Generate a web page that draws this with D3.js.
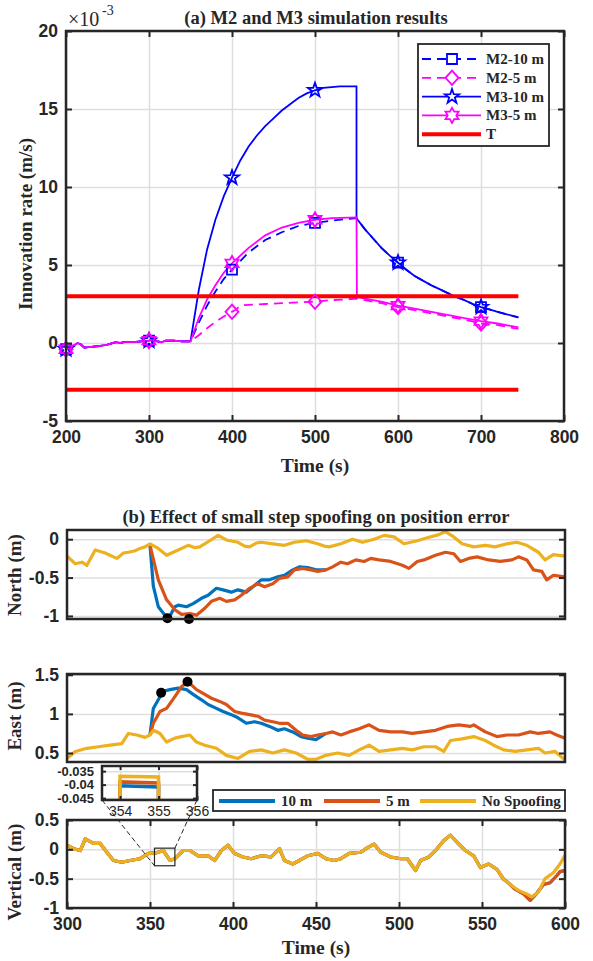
<!DOCTYPE html>
<head>
<meta charset="utf-8">
<script src="https://d3js.org/d3.v7.min.js"></script>
<style>
body { margin: 0; background: white; }
svg { font-family: 'Liberation Serif', 'Times New Roman', serif; }
text { font-weight: bold; fill: #262626; }
.grid line { stroke: #dedede; stroke-width: 1.5; }
.grid .domain { display: none; }
.ax .domain { display: none; }
.ax line { stroke: #262626; stroke-width: 2; }
.ax text { font-size: 17.5px; }
.frame { fill: none; stroke: #262626; stroke-width: 2.5; }
</style>
</head>
<body>
<svg id="fig" width="593" height="961"></svg>
<script>

// ---------- panel (a) data, values in 1e-3 m/s ----------
var pre350 = [[200,-0.40],[205,-0.30],[210,-0.15],[214,0.0],[218,-0.10],[222,-0.30],[230,-0.25],[240,-0.20],
  [250,-0.10],[260,0.05],[265,0.0],[270,0.05],[280,0.05],[290,0.10],[300,0.15],[305,0.25],[310,0.10],
  [315,0.05],[320,0.15],[330,0.15],[340,0.10],[350,0.10]];

var decay10 = [[550,8.0],[560,7.3],[570,6.7],[580,6.1],[590,5.6],[600,5.15],[610,4.7],[620,4.3],[630,4.0],
  [640,3.7],[650,3.45],[660,3.2],[670,2.95],[680,2.75],[690,2.5],[700,2.3],[710,2.15],[720,2.0],[730,1.85],[745,1.65]];

var m2_10_rise = [[360,1.3],[370,2.4],[380,3.3],[390,4.1],[400,4.7],[420,5.8],[440,6.6],[460,7.1],
  [480,7.5],[500,7.7],[520,7.85],[540,7.95]];

var m3_10_rise = [[360,3.4],[370,6.0],[380,7.9],[390,9.4],[400,10.6],[410,11.7],[420,12.6],[430,13.3],
  [440,13.9],[450,14.4],[460,14.9],[470,15.3],[480,15.7],[490,16.0],[500,16.2],[510,16.35],[520,16.4],
  [530,16.45],[540,16.45],[550,16.45]];

var m2_5_rest = [[360,0.5],[370,0.95],[380,1.35],[390,1.7],[400,2.0],[405,2.15],[410,2.4],[420,2.45],
  [440,2.5],[460,2.55],[480,2.6],[500,2.65],[520,2.75],[540,2.8],[550,2.85],[560,2.75],[580,2.55],
  [600,2.3],[620,2.1],[650,1.8],[680,1.5],[700,1.25],[720,1.15],[745,0.9]];

var m3_5_rest = [[360,1.6],[370,2.8],[380,3.7],[390,4.5],[400,5.1],[420,6.1],[440,6.9],[460,7.4],
  [480,7.7],[500,7.9],[520,8.0],[550,8.05],[550.5,2.95],[560,2.85],[580,2.65],[600,2.4],[620,2.2],
  [650,1.9],[680,1.6],[700,1.4],[720,1.25],[745,1.0]];

var threshold = 3;
var thrSpan = [200, 745];

var seriesA = [
  {name: "M2-10 m", color: "#0000ff", dash: "9,6", marker: "square",   data: pre350.concat(m2_10_rise, decay10)},
  {name: "M2-5 m",  color: "#ff00ff", dash: "9,6", marker: "diamond",  data: pre350.concat(m2_5_rest)},
  {name: "M3-10 m", color: "#0000ff", dash: null,  marker: "star",     data: pre350.concat(m3_10_rise, decay10)},
  {name: "M3-5 m",  color: "#ff00ff", dash: null,  marker: "hexagram", data: pre350.concat(m3_5_rest)}
];
var markerTimes = [200, 300, 400, 500, 600, 700];

// ---------- panel (b) data, position error in m ----------
var north_0 = [[300,-0.22],[305,-0.32],[309,-0.30],[312,-0.34],[317,-0.14],[323,-0.18],[327,-0.22],[330,-0.25],
  [334,-0.18],[337,-0.17],[341,-0.15],[344,-0.12],[347,-0.10],[350,-0.06],[355,-0.12],[360,-0.21],[364,-0.17],
  [367,-0.14],[373,-0.08],[377,-0.11],[380,-0.10],[386,-0.02],[391,0.05],[396,-0.01],[403,-0.04],[407,-0.09],
  [410,-0.10],[414,-0.05],[417,-0.04],[424,-0.06],[431,-0.08],[437,-0.04],[444,-0.02],[451,-0.06],[455,-0.09],
  [458,-0.10],[465,-0.06],[472,0.00],[478,-0.04],[485,0.00],[491,0.05],[497,0.03],[503,-0.06],[507,-0.04],
  [511,-0.02],[517,0.02],[524,0.06],[528,0.10],[533,0.03],[538,-0.06],[545,-0.10],[552,-0.08],[558,-0.10],
  [565,-0.06],[571,-0.04],[577,-0.08],[584,-0.17],[588,-0.27],[593,-0.20],[600,-0.22]];
var north_5 = [[350,-0.08],[355,-0.53],[360,-0.79],[365,-0.92],[369,-0.98],[374,-0.97],[378,-0.99],[383,-0.90],
  [387,-0.81],[392,-0.77],[396,-0.81],[401,-0.79],[405,-0.73],[410,-0.64],[415,-0.58],[419,-0.62],[424,-0.58],
  [428,-0.51],[433,-0.49],[437,-0.40],[442,-0.38],[447,-0.40],[451,-0.42],[456,-0.40],[460,-0.36],[465,-0.30],
  [469,-0.32],[474,-0.27],[479,-0.29],[483,-0.25],[488,-0.27],[495,-0.29],[502,-0.34],[506,-0.38],[511,-0.29],
  [515,-0.27],[522,-0.21],[528,-0.17],[533,-0.19],[537,-0.29],[542,-0.25],[547,-0.23],[554,-0.27],[561,-0.29],
  [568,-0.27],[572,-0.23],[577,-0.27],[581,-0.40],[586,-0.42],[589,-0.53],[593,-0.47],[600,-0.49]];
var north_10 = [[350,-0.08],[352,-0.61],[355,-0.88],[359,-0.99],[362,-1.0],[365,-0.88],[367,-0.86],[372,-0.88],
  [376,-0.84],[381,-0.77],[385,-0.73],[390,-0.64],[394,-0.66],[399,-0.69],[403,-0.66],[408,-0.69],[412,-0.62],
  [417,-0.53],[422,-0.53],[427,-0.49],[431,-0.47],[436,-0.40],[440,-0.36],[445,-0.37],[450,-0.40],[456,-0.40]];
var north_dots = [[360.5,-1.03],[373.5,-1.04]];

var east_0 = [[300,0.43],[305,0.52],[312,0.56],[319,0.58],[326,0.60],[333,0.62],[337,0.75],[342,0.73],[347,0.70],
  [350,0.73],[352,0.79],[356,0.75],[360,0.64],[365,0.69],[369,0.71],[374,0.73],[378,0.64],[383,0.60],[390,0.56],
  [396,0.47],[403,0.43],[410,0.52],[417,0.54],[424,0.50],[431,0.54],[438,0.50],[445,0.42],[450,0.42],[456,0.47],
  [463,0.50],[470,0.47],[476,0.54],[482,0.60],[488,0.52],[495,0.54],[502,0.56],[508,0.54],[515,0.58],[522,0.58],
  [527,0.52],[531,0.66],[538,0.68],[545,0.71],[552,0.66],[557,0.60],[563,0.54],[570,0.52],[577,0.54],[584,0.56],
  [588,0.50],[594,0.52],[600,0.41]];
var east_5 = [[350,0.73],[352,0.88],[356,1.03],[360,1.07],[365,1.22],[369,1.35],[373,1.41],[378,1.31],[383,1.25],
  [387,1.20],[392,1.16],[396,1.12],[401,1.03],[405,1.01],[410,0.99],[415,0.97],[419,0.92],[424,0.90],[428,0.88],
  [433,0.88],[438,0.79],[442,0.73],[447,0.71],[451,0.73],[456,0.75],[460,0.77],[465,0.73],[470,0.77],[476,0.81],
  [482,0.86],[488,0.79],[495,0.77],[502,0.77],[508,0.75],[515,0.77],[522,0.79],[529,0.84],[536,0.86],[543,0.84],
  [545,0.86],[552,0.77],[559,0.71],[565,0.73],[572,0.73],[579,0.77],[584,0.75],[591,0.77],[595,0.73],[600,0.69]];
var east_10 = [[350,0.73],[352,1.07],[356,1.22],[358,1.29],[362,1.31],[367,1.33],[372,1.31],[376,1.25],[381,1.18],
  [385,1.12],[390,1.07],[394,1.03],[399,0.99],[403,0.95],[408,0.88],[413,0.90],[417,0.88],[422,0.84],[427,0.79],
  [431,0.81],[436,0.77],[441,0.71],[445,0.69],[450,0.67],[456,0.75]];
var east_dots = [[356.7,1.27],[372.6,1.41]];

var vert_0 = [[300,0.07],[304,0.01],[308,-0.02],[311,0.18],[316,0.10],[320,0.10],[324,-0.05],[328,-0.19],[333,-0.22],
  [338,-0.19],[344,-0.16],[349,-0.07],[354,-0.06],[358,-0.02],[362,-0.19],[365,-0.16],[370,-0.02],[374,-0.02],
  [379,-0.11],[385,-0.11],[389,-0.19],[393,-0.02],[397,0.07],[401,-0.07],[406,-0.13],[411,-0.16],[417,-0.11],
  [423,-0.13],[428,0.01],[431,-0.19],[436,-0.25],[440,-0.19],[445,-0.11],[451,-0.07],[456,-0.16],[461,-0.19],
  [465,-0.16],[470,-0.07],[477,-0.05],[481,0.03],[485,0.09],[489,-0.05],[495,-0.13],[501,-0.16],[505,-0.16],
  [510,-0.36],[513,-0.19],[518,-0.13],[522,-0.02],[527,0.15],[531,0.24],[536,0.09],[540,-0.02],[545,-0.11],
  [549,-0.31],[554,-0.25],[559,-0.34],[563,-0.51],[568,-0.62],[572,-0.70],[577,-0.76],[580,-0.81],[584,-0.73],
  [588,-0.50],[593,-0.40],[597,-0.25],[600,-0.10]];
var vert_tail = [[565,-0.55],[570,-0.68],[575,-0.76],[579,-0.87],[583,-0.75],[587,-0.60],[591,-0.57],[595,-0.45],
  [597,-0.38],[600,-0.36]];
var vert_5 = vert_0.filter(function(d) { return d[0] < 565; }).concat(vert_tail);
var vert_10 = vert_5;

// inset (zoom of vertical error near 354-355 s)
var inset_0  = [[354,-0.050],[354,-0.0369],[355,-0.0372],[355,-0.050]];
var inset_5  = [[354,-0.050],[354,-0.0390],[355,-0.0394],[355,-0.050]];
var inset_10 = [[354,-0.050],[354,-0.0404],[355,-0.0409],[355,-0.050]];
var zoomBox = {t0: 352.7, t1: 365.0, v0: -0.28, v1: 0.02};

var colB = {s10: "#0072bd", s5: "#d95319", s0: "#edb120"};
var legendB = [["10 m", colB.s10], ["5 m", colB.s5], ["No Spoofing", colB.s0]];

// ---------- drawing ----------
var svg = d3.select("#fig");

function markerPath(type, r) {
  var pts = [], i, n, a;
  if (type == "square") return "M" + (-r) + "," + (-r) + "h" + (2*r) + "v" + (2*r) + "h" + (-2*r) + "Z";
  if (type == "diamond") return "M0," + (-r*1.1) + "L" + r + ",0L0," + (r*1.1) + "L" + (-r) + ",0Z";
  n = type == "star" ? 5 : 6;
  var inner = type == "star" ? r * 0.4 : r / Math.sqrt(3);
  for (i = 0; i < 2*n; i++) {
    a = -Math.PI/2 + i * Math.PI / n;
    var rr = i % 2 ? inner : r;
    pts.push([rr*Math.cos(a), rr*Math.sin(a)]);
  }
  return "M" + pts.join("L") + "Z";
}
var markerR = {square: 5, diamond: 6.5, star: 7.5, hexagram: 7.5};

function frame(g, x, y, o) {
  var x0 = x.range()[0], x1 = x.range()[1], y0 = y.range()[0], y1 = y.range()[1];
  if (o.ygrid) g.append("g").attr("class", "grid").attr("transform", "translate(" + x0 + ",0)")
      .call(d3.axisLeft(y).tickValues(o.yt).tickSize(-(x1 - x0)).tickFormat(""));
  if (o.xgrid) g.append("g").attr("class", "grid").attr("transform", "translate(0," + y0 + ")")
      .call(d3.axisBottom(x).tickValues(o.xt).tickSize(-(y0 - y1)).tickFormat(""));
}
function axes(g, x, y, o) {
  var x0 = x.range()[0], x1 = x.range()[1], y0 = y.range()[0], y1 = y.range()[1];
  var ts = o.ts || 6;
  var fmt = function(d) { return String(d); };
  var l = g.append("g").attr("class", "ax").attr("transform", "translate(" + x0 + ",0)")
      .call(d3.axisLeft(y).tickValues(o.yt).tickSize(-ts).tickPadding(8).tickFormat(fmt));
  if (o.yfs) l.selectAll("text").style("font-size", o.yfs);
  g.append("g").attr("class", "ax").attr("transform", "translate(" + x1 + ",0)")
      .call(d3.axisRight(y).tickValues(o.yt).tickSize(-ts).tickFormat(""));
  if (o.xt) {
    var b = g.append("g").attr("class", "ax").attr("transform", "translate(0," + y0 + ")")
        .call(d3.axisBottom(x).tickValues(o.xt).tickSize(-ts).tickPadding(o.xpad || 10).tickFormat(o.xlab ? fmt : ""));
    if (o.xfs) b.selectAll("text").style("font-size", o.xfs).style("font-weight", o.xfw || "bold");
    g.append("g").attr("class", "ax").attr("transform", "translate(0," + y1 + ")")
        .call(d3.axisTop(x).tickValues(o.xt).tickSize(-ts).tickFormat(""));
  }
  g.append("rect").attr("class", "frame").attr("x", x0).attr("y", y1)
    .attr("width", x1 - x0).attr("height", y0 - y1);
}

// ===== panel (a) =====
var xA = d3.scaleLinear().domain([200, 800]).range([66, 564]);
var yA = d3.scaleLinear().domain([-5, 20]).range([421, 31]);
var gA = svg.append("g");
frame(gA, xA, yA, {xgrid: true, ygrid: true, xt: d3.range(200, 801, 100), yt: d3.range(-5, 21, 5)});

var lineA = d3.line().x(function(d) { return xA(d[0]); }).y(function(d) { return yA(d[1]); });

seriesA.forEach(function(s) {
  gA.append("path").datum(s.data).attr("d", lineA)
    .attr("fill", "none").attr("stroke", s.color).attr("stroke-width", 1.8)
    .attr("stroke-dasharray", s.dash);
});
gA.selectAll(".thr").data([threshold, -threshold]).enter().append("line")
  .attr("x1", xA(thrSpan[0])).attr("x2", xA(thrSpan[1]))
  .attr("y1", function(d) { return yA(d); }).attr("y2", function(d) { return yA(d); })
  .attr("stroke", "#ff0000").attr("stroke-width", 4);
seriesA.forEach(function(s) {
  var pts = s.data.filter(function(d) { return markerTimes.indexOf(d[0]) >= 0; });
  gA.selectAll(null).data(pts).enter().append("path")
    .attr("d", markerPath(s.marker, markerR[s.marker]))
    .attr("transform", function(d) { return "translate(" + xA(d[0]) + "," + yA(d[1]) + ")"; })
    .attr("fill", "none").attr("stroke", s.color).attr("stroke-width", 1.8);
});
axes(gA, xA, yA, {xt: d3.range(200, 801, 100), yt: d3.range(-5, 21, 5), xlab: true, ts: 6});

svg.append("text").attr("x", 68).attr("y", 26).style("font-weight", "normal").style("font-size", "20px").text("\u00d710");
svg.append("text").attr("x", 102).attr("y", 15).style("font-weight", "normal").style("font-size", "14px").text("-3");
svg.append("text").attr("x", 316).attr("y", 24).attr("text-anchor", "middle").style("font-size", "18.5px")
  .text("(a) M2 and M3 simulation results");
svg.append("text").attr("x", 315).attr("y", 472).attr("text-anchor", "middle").style("font-size", "19.5px")
  .text("Time (s)");
svg.append("text").attr("transform", "translate(32,224) rotate(-90)").attr("text-anchor", "middle")
  .style("font-size", "19px").text("Innovation rate (m/s)");

// legend (a)
var legA = svg.append("g");
legA.append("rect").attr("x", 418).attr("y", 44).attr("width", 131).attr("height", 102)
  .attr("fill", "white").attr("stroke", "#262626").attr("stroke-width", 1.8);
var legItems = seriesA.map(function(s) { return s; }).concat([{name: "T", color: "#ff0000", thick: true}]);
legItems.forEach(function(s, i) {
  var yy = 59 + i * 18.8;
  legA.append("line").attr("x1", 422).attr("x2", 481).attr("y1", yy).attr("y2", yy)
    .attr("stroke", s.color).attr("stroke-width", s.thick ? 4 : 1.8).attr("stroke-dasharray", s.dash || null);
  if (s.marker) legA.append("path").attr("d", markerPath(s.marker, markerR[s.marker]))
    .attr("transform", "translate(452," + yy + ")").attr("fill", "white")
    .attr("stroke", s.color).attr("stroke-width", 1.8);
  legA.append("text").attr("x", 486).attr("y", yy + 5).style("font-size", "15px").text(s.name);
});

// ===== panel (b) =====
var xB = d3.scaleLinear().domain([300, 600]).range([67, 565]);
var yN = d3.scaleLinear().domain([-1.04, 0.12]).range([619, 530]);
var yE = d3.scaleLinear().domain([0.385, 1.51]).range([762, 674]);
var yV = d3.scaleLinear().domain([-1, 0.5]).range([908, 820]);

svg.append("text").attr("x", 316).attr("y", 523).attr("text-anchor", "middle").style("font-size", "18.5px")
  .text("(b) Effect of small step spoofing on position error");

function subplot(y, s10, s5, s0, o) {
  var g = svg.append("g");
  frame(g, xB, y, {ygrid: true, xgrid: o.xgrid, xt: o.xt, yt: o.yt});
  var ln = d3.line().x(function(d) { return xB(d[0]); }).y(function(d) { return y(d[1]); });
  [[s10, colB.s10], [s5, colB.s5], [s0, colB.s0]].forEach(function(p) {
    g.append("path").datum(p[0]).attr("d", ln).attr("fill", "none")
      .attr("stroke", p[1]).attr("stroke-width", 3.2).attr("stroke-linejoin", "round");
  });
  if (o.dots) g.selectAll(null).data(o.dots).enter().append("circle")
    .attr("cx", function(d) { return xB(d[0]); }).attr("cy", function(d) { return y(d[1]); })
    .attr("r", 5).attr("fill", "black");
  axes(g, xB, y, {yt: o.yt, xt: o.xt, xlab: !!o.xt, ts: 6});
  svg.append("text").attr("transform", "translate(21," + o.lc + ") rotate(-90)").attr("text-anchor", "middle")
    .style("font-size", "19px").text(o.label);
  return g;
}

subplot(yN, north_10, north_5, north_0, {yt: [-1, -0.5, 0], dots: north_dots, label: "North (m)", lc: 575});
subplot(yE, east_10, east_5, east_0, {yt: [0.5, 1, 1.5], dots: east_dots, label: "East (m)", lc: 716});
var gV = subplot(yV, vert_10, vert_5, vert_0, {yt: [-1, -0.5, 0, 0.5], xt: d3.range(300, 601, 50), xgrid: true,
  label: "Vertical (m)", lc: 872});

svg.append("text").attr("x", 316).attr("y", 954).attr("text-anchor", "middle").style("font-size", "19.5px")
  .text("Time (s)");

// zoom rectangle on the vertical subplot
gV.append("rect").attr("x", xB(zoomBox.t0)).attr("y", yV(zoomBox.v1))
  .attr("width", xB(zoomBox.t1) - xB(zoomBox.t0)).attr("height", yV(zoomBox.v0) - yV(zoomBox.v1))
  .attr("fill", "none").attr("stroke", "#262626").attr("stroke-width", 1.2);

// inset axes
var xI = d3.scaleLinear().domain([353.53, 356]).range([102, 197]);
var yI = d3.scaleLinear().domain([-0.0457, -0.0331]).range([800, 766]);
var gI = svg.append("g");
gI.append("rect").attr("x", 102).attr("y", 766).attr("width", 95).attr("height", 34).attr("fill", "white");
frame(gI, xI, yI, {xgrid: true, ygrid: true, xt: [354, 355, 356], yt: [-0.045, -0.04, -0.035]});
gI.append("clipPath").attr("id", "clipI").append("rect").attr("x", 102).attr("y", 766).attr("width", 95).attr("height", 34);
var lnI = d3.line().x(function(d) { return xI(d[0]); }).y(function(d) { return yI(d[1]); });
[[inset_10, colB.s10], [inset_5, colB.s5], [inset_0, colB.s0]].forEach(function(p) {
  gI.append("path").datum(p[0]).attr("d", lnI).attr("clip-path", "url(#clipI)").attr("fill", "none")
    .attr("stroke", p[1]).attr("stroke-width", 3.5);
});
axes(gI, xI, yI, {xt: [354, 355, 356], yt: [-0.045, -0.04, -0.035], xlab: true, ts: 4, xpad: 6,
  yfs: "13px", xfs: "14px", xfw: "normal"});

// connector lines inset -> zoom box
var conn = [[[xI.range()[0], yI.range()[0]], [xB(zoomBox.t0), yV(zoomBox.v0)]],
            [[xI.range()[1], yI.range()[0]], [xB(zoomBox.t1), yV(zoomBox.v1)]]];
svg.selectAll(".conn").data(conn).enter().append("line")
  .attr("x1", function(d) { return d[0][0]; }).attr("y1", function(d) { return d[0][1]; })
  .attr("x2", function(d) { return d[1][0]; }).attr("y2", function(d) { return d[1][1]; })
  .attr("stroke", "#262626").attr("stroke-width", 1).attr("stroke-dasharray", "5,3");

// legend (b)
var legB = svg.append("g");
legB.append("rect").attr("x", 213).attr("y", 790).attr("width", 352).attr("height", 21)
  .attr("fill", "white").attr("stroke", "#262626").attr("stroke-width", 1.8);
var legBx = [219, 324, 420];
legendB.forEach(function(d, i) {
  legB.append("line").attr("x1", legBx[i]).attr("x2", legBx[i] + 56).attr("y1", 801).attr("y2", 801)
    .attr("stroke", d[1]).attr("stroke-width", 4);
  legB.append("text").attr("x", legBx[i] + 62).attr("y", 806).style("font-size", "15px").text(d[0]);
});

</script>
</body>
